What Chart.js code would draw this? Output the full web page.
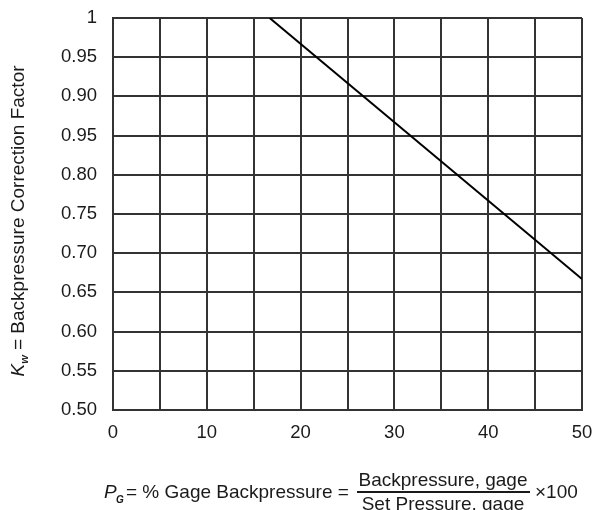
<!DOCTYPE html>
<html>
<head>
<meta charset="utf-8">
<script src="https://cdn.jsdelivr.net/npm/chart.js@4"></script>
<style>
  html, body { margin: 0; padding: 0; background: #fff; }
  #wrap { width: 593px; height: 510px; }
</style>
</head>
<body>
<div id="wrap"><canvas id="c" width="593" height="510"></canvas></div>
<script>
// Data
const gageBackpressure = [16.7, 50];        // % gage backpressure (x)
const correctionFactor = [1.0, 0.667];      // Kw (y)
const yTickLabels = ['0.50','0.55','0.60','0.65','0.70','0.75','0.80','0.95','0.90','0.95','1'];
const xTickLabels = ['0','10','20','30','40','50'];

const FONT = '"Liberation Sans", Arial, Helvetica, sans-serif';
const TXT = '#1a1a1a';
const GRID = '#333';

const textPlugin = {
  id: 'texts',
  afterDraw(chart) {
    const ctx = chart.ctx;
    ctx.save();
    ctx.fillStyle = TXT;
    // Y axis title (rotated)
    ctx.save();
    ctx.translate(24, 221);
    ctx.rotate(-Math.PI / 2);
    ctx.textBaseline = 'alphabetic';
    const parts = [
      { t: 'K', f: 'italic 19px ' + FONT, dy: 0 },
      { t: 'w', f: 'italic bold 11px ' + FONT, dy: 4 },
      { t: ' = Backpressure Correction Factor', f: '19px ' + FONT, dy: 0 }
    ];
    let total = 0;
    parts.forEach(p => { ctx.font = p.f; p.w = ctx.measureText(p.t).width; total += p.w; });
    let x = -total / 2;
    parts.forEach(p => { ctx.font = p.f; ctx.fillText(p.t, x, p.dy); x += p.w; });
    ctx.restore();

    // Bottom formula
    ctx.textBaseline = 'alphabetic';
    ctx.textAlign = 'left';
    ctx.font = 'italic 19px ' + FONT;
    ctx.fillText('P', 104, 498);
    ctx.font = 'italic bold 10px ' + FONT;
    ctx.fillText('G', 116, 503);
    ctx.font = '19px ' + FONT;
    ctx.fillText('= % Gage Backpressure =', 126, 498);
    ctx.textAlign = 'center';
    ctx.fillText('Backpressure, gage', 443, 486);
    ctx.fillText('Set Pressure, gage', 443, 510);
    ctx.fillRect(357, 491, 173, 2);
    ctx.textAlign = 'left';
    ctx.fillText('\u00d7100', 535, 498);
    ctx.restore();
  }
};

new Chart(document.getElementById('c'), {
  type: 'scatter',
  data: {
    datasets: [{
      data: gageBackpressure.map((v, i) => ({ x: v, y: correctionFactor[i] })),
      showLine: true,
      borderColor: '#000',
      borderWidth: 2,
      pointRadius: 0,
      fill: false
    }]
  },
  options: {
    responsive: false,
    animation: false,
    layout: { padding: { top: 18, right: 11, bottom: 60, left: 0 } },
    plugins: { legend: { display: false }, tooltip: { enabled: false } },
    scales: {
      x: {
        type: 'linear', min: 0, max: 50,
        afterFit(s) { s.height = 40; s.paddingLeft = 0; s.paddingRight = 0; },
        afterBuildTicks(s) { s.ticks = []; for (let v = 0; v <= 50; v += 5) s.ticks.push({ value: v }); },
        grid: { color: GRID, lineWidth: 2, drawTicks: false },
        border: { color: GRID, width: 2 },
        ticks: {
          padding: 12, color: TXT, font: { size: 18.5, family: FONT },
          autoSkip: false, maxRotation: 0,
          callback: (v) => (v % 10 === 0 ? xTickLabels[v / 10] : '')
        }
      },
      y: {
        type: 'linear', min: 0.5, max: 1,
        afterFit(s) { s.width = 113; s.paddingTop = 0; s.paddingBottom = 0; },
        afterBuildTicks(s) { s.ticks = yTickLabels.map((l, i) => ({ value: 0.5 + i * 0.05 })); },
        grid: { color: GRID, lineWidth: 2, drawTicks: false },
        border: { color: GRID, width: 2 },
        ticks: {
          padding: 16, color: TXT, font: { size: 18.5, family: FONT },
          autoSkip: false,
          callback: (v, i) => yTickLabels[i]
        }
      }
    }
  },
  plugins: [textPlugin]
});
</script>
</body>
</html>
